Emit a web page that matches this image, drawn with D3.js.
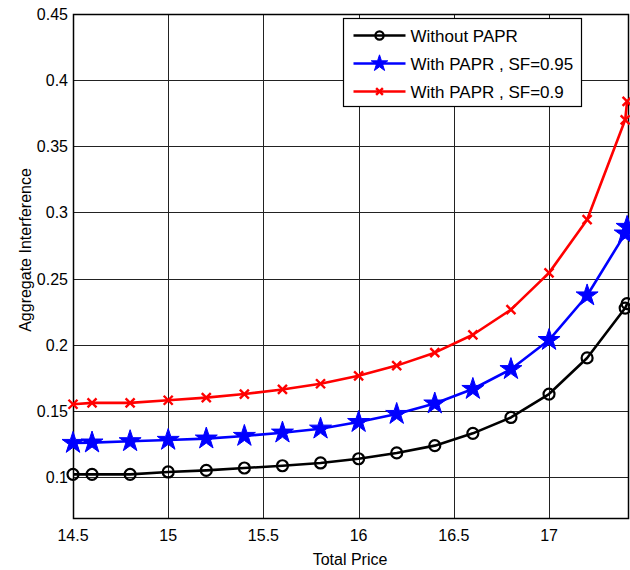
<!DOCTYPE html>
<html>
<head>
<meta charset="utf-8">
<script src="https://cdn.jsdelivr.net/npm/d3@7"></script>
<style>
  html, body { margin: 0; padding: 0; background: #fff; }
  svg { display: block; font-family: "Liberation Sans", Arial, sans-serif; }
</style>
</head>
<body>
<div id="chart"></div>
<script>
const prices = [14.5, 14.6, 14.8, 15, 15.2, 15.4, 15.6, 15.8, 16, 16.2, 16.4, 16.6, 16.8, 17, 17.2, 17.4, 17.41];
const withoutPapr = [0.102, 0.102, 0.102, 0.1038, 0.105, 0.1068, 0.1085, 0.1106, 0.1138, 0.1182, 0.1237, 0.133, 0.145, 0.1627, 0.19, 0.2277, 0.231];
const papr095 = [0.1257, 0.126, 0.127, 0.128, 0.129, 0.131, 0.1335, 0.1365, 0.1415, 0.1476, 0.1555, 0.1665, 0.1815, 0.2035, 0.2372, 0.284, 0.289];
const papr09 = [0.155, 0.156, 0.156, 0.158, 0.160, 0.1627, 0.1662, 0.1705, 0.1765, 0.1842, 0.194, 0.2075, 0.2265, 0.2543, 0.2945, 0.370, 0.384];
const xTicks = [14.5, 15, 15.5, 16, 16.5, 17];
const yTicks = [0.1, 0.15, 0.2, 0.25, 0.3, 0.35, 0.4, 0.45];
const seriesNames = ['Without PAPR', 'With PAPR , SF=0.95', 'With PAPR , SF=0.9'];

const width = 630, height = 570;
const margin = { top: 14, right: 1, bottom: 52, left: 73 };

const svg = d3.select('#chart').append('svg')
  .attr('width', width)
  .attr('height', height);

const x = d3.scaleLinear().domain([14.5, 17.42]).range([margin.left, width - margin.right]);
const y = d3.scaleLinear().domain([0.069, 0.45]).range([height - margin.bottom, margin.top]);

const plotW = width - margin.right - margin.left;
const plotH = height - margin.bottom - margin.top;

// grid
const grid = svg.append('g').attr('stroke', '#222').attr('stroke-width', 1);
xTicks.forEach(t => {
  grid.append('line')
    .attr('x1', Math.round(x(t)) + 0.5).attr('x2', Math.round(x(t)) + 0.5)
    .attr('y1', margin.top).attr('y2', margin.top + plotH);
});
yTicks.forEach(t => {
  grid.append('line')
    .attr('x1', margin.left).attr('x2', margin.left + plotW)
    .attr('y1', Math.round(y(t)) + 0.5).attr('y2', Math.round(y(t)) + 0.5);
});

// box
svg.append('rect')
  .attr('x', margin.left + 0.5).attr('y', margin.top + 0.5)
  .attr('width', plotW - 1).attr('height', plotH)
  .attr('fill', 'none').attr('stroke', '#000').attr('stroke-width', 1.5);

// tick labels
svg.append('g').selectAll('text').data(xTicks).join('text')
  .attr('x', d => x(d)).attr('y', height - margin.bottom + 23)
  .attr('text-anchor', 'middle').attr('font-size', 16).attr('fill', '#000')
  .text(d => String(d));

svg.append('g').selectAll('text').data(yTicks).join('text')
  .attr('x', margin.left - 5).attr('y', d => y(d) + 6)
  .attr('text-anchor', 'end').attr('font-size', 16).attr('fill', '#000')
  .text(d => String(d));

svg.append('text')
  .attr('x', 350).attr('y', 565)
  .attr('text-anchor', 'middle').attr('font-size', 16)
  .text('Total Price');

svg.append('text')
  .attr('transform', 'translate(31,250) rotate(-90)')
  .attr('text-anchor', 'middle').attr('font-size', 16)
  .text('Aggregate Interference');

// series
const series = [
  { name: seriesNames[0], values: withoutPapr, color: '#000000', marker: 'circle' },
  { name: seriesNames[1], values: papr095, color: '#0000ff', marker: 'star' },
  { name: seriesNames[2], values: papr09, color: '#ff0000', marker: 'cross' },
];

const line = d3.line()
  .x(d => x(d[0]))
  .y(d => y(d[1]));

function drawMarker(g, cx, cy, s, k = 1) {
  if (s.marker === 'circle') {
    g.append('circle').attr('cx', cx).attr('cy', cy).attr('r', 5.5 * k)
      .attr('fill', 'none').attr('stroke', s.color).attr('stroke-width', 2.2);
  } else if (s.marker === 'star') {
    g.append('path').attr('d', d3.symbol().type(d3.symbolStar).size(150 * k * k)())
      .attr('transform', 'translate(' + cx + ',' + cy + ')')
      .attr('fill', s.color).attr('stroke', s.color).attr('stroke-width', 1);
  } else {
    const r = 4.5 * k;
    g.append('path')
      .attr('d', 'M' + (cx - r) + ',' + (cy - r) + 'L' + (cx + r) + ',' + (cy + r) +
        'M' + (cx - r) + ',' + (cy + r) + 'L' + (cx + r) + ',' + (cy - r))
      .attr('stroke', s.color).attr('stroke-width', 2.4).attr('fill', 'none');
  }
}

series.forEach(s => {
  const pts = prices.map((p, i) => [p, s.values[i]]);
  svg.append('path')
    .attr('d', line(pts))
    .attr('fill', 'none').attr('stroke', s.color).attr('stroke-width', 2.6)
    .attr('stroke-linejoin', 'round');
  const g = svg.append('g');
  pts.forEach(p => drawMarker(g, x(p[0]), y(p[1]), s));
});

// legend
const lg = svg.append('g').attr('transform', 'translate(343.5,18.5)');
lg.append('rect').attr('width', 238).attr('height', 88)
  .attr('fill', '#fff').attr('stroke', '#000').attr('stroke-width', 1.2);
series.forEach((s, i) => {
  const cy = 17 + i * 28;
  lg.append('line').attr('x1', 10).attr('x2', 62).attr('y1', cy).attr('y2', cy)
    .attr('stroke', s.color).attr('stroke-width', 2.6);
  drawMarker(lg, 36, cy, s, 0.75);
  lg.append('text').attr('x', 67).attr('y', cy + 6)
    .attr('font-size', 17).attr('fill', '#000').text(s.name);
});
</script>
</body>
</html>
